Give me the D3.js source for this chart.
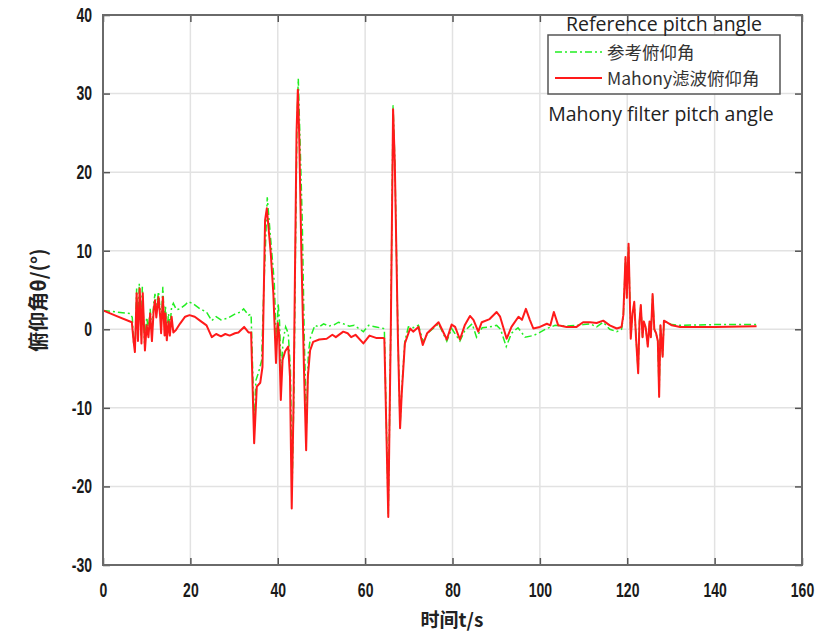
<!DOCTYPE html>
<html><head><meta charset="utf-8">
<script src="https://cdn.jsdelivr.net/npm/d3@7"></script>
<style>
html,body{margin:0;padding:0;background:#fff;}
svg{display:block;}
.tick text{font-family:"Liberation Sans",Arial,sans-serif;font-weight:bold;font-size:20px;fill:#1a1a1a;}
</style></head>
<body>
<svg id="chart" width="840" height="634"></svg>
<script>
// ---- data ----
const xTicks = [0,20,40,60,80,100,120,140,160];
const yTicks = [-30,-20,-10,0,10,20,30,40];
const seriesNames = ["参考俯仰角","Mahony滤波俯仰角"];

const refT = [0,3,6.2,6.7,7.0,7.4,7.7,8.0,8.3,8.7,9.0,9.5,10.0,10.4,10.8,11.2,11.6,11.9,12.2,12.7,13.1,13.3,13.7,14.1,14.3,14.6,15.0,15.3,15.7,16.1,16.8,17.6,18.8,19.5,20.5,22.2,23.7,24.9,25.9,27.0,28.5,30.4,31.5,32.2,33.3,33.9,34.6,35.0,35.6,36.3,36.8,37.6,38.0,38.6,39.2,39.7,40.1,40.4,40.8,41.2,41.8,42.4,42.9,43.3,43.7,44.1,44.4,44.7,45.0,45.6,46.1,46.6,47.0,47.5,48.5,49.5,50.5,51.7,53.0,53.9,55,56.4,57.5,59.6,60.8,62.5,64.2,64.4,65.3,65.9,66.4,66.8,67.5,68.0,68.4,69.1,69.9,71.0,72.2,73.3,74.3,76.8,78.7,79.8,81.7,82.8,84.5,85.5,86.8,88.5,90.1,91.0,92.3,93.5,95.0,96.6,98.5,100.0,101.6,103.5,106,110,111.5,113,114.5,116,117.6,118.7,119.1,119.6,119.9,120.3,120.8,121.2,121.6,122.0,122.5,122.8,123.1,123.5,123.8,124.2,124.7,125.1,125.4,125.8,126.2,126.6,127.0,127.3,127.6,128.1,128.4,129.0,130.2,132,140,149.6];
const refV = [2.4,2.2,2.0,1.5,-1.6,-1.5,5.2,-0.5,5.8,-0.8,5.4,-1.8,1.5,0,2.6,-0.5,3.2,4.5,2.5,4.8,2.5,0.5,5.4,0.2,3.0,-0.4,2.0,0.3,2.8,3.3,2.5,2.6,3.1,3.5,3.3,2.6,2.2,1.1,1.6,1.2,1.4,2.0,2.2,2.6,1.8,1.9,-12,-6.5,-5.5,-4,5,16.8,14,10,6,-2,3.3,1,-6,-1.5,0.3,-0.5,-5,-20,-8,12,26,31.9,26,14,-2,-12,-3,-1.0,0.5,0.3,0.7,0.4,0.6,0.9,0.7,0.4,0.5,-0.3,0.5,0.3,0.1,0.0,-23.5,1.5,28.5,21.5,-0.5,-12.3,-7.5,-1.5,0.3,0.2,0.5,-1.6,-0.5,0.7,-1.5,0.1,-1.5,-0.2,0.7,-1.0,0.2,0.3,0.5,0,-2.2,-0.5,0.2,-1.0,-0.8,-0.4,0.1,0.5,0.4,0.6,0.7,0.3,0.9,0.0,-0.3,0.0,1.5,9.0,4,10.7,-1.0,2,3.3,-0.8,-5.4,1,3.0,-1,0.8,0.3,-2.0,0.8,-1,4.3,0,-0.5,-1.5,-8.4,0.5,-3.3,1.0,0.9,0.6,0.5,0.6,0.6];

const mahT = [0,3,6.6,7.0,7.3,7.7,8.0,8.4,8.8,9.1,9.6,10.0,10.4,10.8,11.2,11.6,11.9,12.2,12.7,13.1,13.3,13.7,14.1,14.3,14.6,15.0,15.3,15.7,16.1,16.7,17.6,18.8,19.8,21.0,22.2,23.7,24.9,25.9,27.0,28.0,29.0,30.2,31.0,32.3,33.3,33.9,34.6,35.2,36.0,36.5,37.1,37.5,37.8,38.4,39.0,39.6,40.0,40.3,40.7,41.1,41.7,42.4,42.8,43.2,43.6,44.0,44.3,44.6,44.9,45.4,46.0,46.5,46.9,47.4,48.1,49.5,51.2,52.5,53.3,55.0,56.0,56.8,57.8,59.6,61.0,62.5,64.2,64.4,65.3,65.9,66.4,66.8,67.5,68.0,68.4,69.1,70.3,71.0,72.2,73.2,74.2,76.8,78.7,79.8,80.6,81.7,82.8,84.0,84.8,85.9,86.7,88.5,90.1,90.9,92.4,93.5,95.1,95.9,96.8,97.7,98.5,100.0,101.6,102.4,103.2,104.2,106.1,108.4,109.9,111.5,113,114.5,116,117.6,118.7,119.1,119.6,119.9,120.3,120.8,121.2,121.6,122.0,122.5,122.8,123.1,123.5,123.8,124.2,124.7,125.1,125.4,125.8,126.2,126.6,127.0,127.3,127.6,128.1,128.4,129.0,130.2,132.1,140,149.6];
const mahV = [2.4,1.7,0.9,-1.5,-2.9,4.6,-1.5,5.2,-1.8,4.6,-2.7,0.5,-1.0,2.0,-1.5,2.5,3.7,1.5,4.1,1.5,-0.5,4.1,-0.8,2.0,-1.4,1.0,-0.8,1.6,-0.4,-0.1,0.7,1.6,1.8,1.6,1.1,0.5,-1.0,-0.6,-0.9,-0.6,-0.8,-0.5,-0.4,0.3,-0.4,-0.4,-14.5,-7.3,-6.8,-4.8,13.9,15.4,13.5,9.7,4.5,-4.3,0.8,-0.5,-9.0,-3.9,-2.8,-2.2,-6,-22.8,-10,10,25,30.5,25,10,-5,-15.4,-6,-2.7,-1.6,-1.3,-1.2,-0.7,-1.0,-0.3,-0.5,-1.0,-0.7,-1.8,-0.8,-1.1,-1.1,-1.2,-23.9,1,28.0,21,-1,-12.6,-8,-1.8,0.1,-0.3,0.3,-2.0,-0.5,0.9,-1.3,0.6,0.3,-1.3,0.5,1.7,1.2,-0.3,0.9,1.3,2.2,1.6,-1.2,0.3,1.6,1.2,2.6,1.2,0.1,0.3,0.7,0.5,2.2,0.5,0.3,0.3,0.9,0.9,0.8,1.1,0.5,0.1,0.3,1.8,9.2,4,10.9,-1.2,2,3.5,-1,-5.6,1,3.1,-1,1,0.3,-2.2,1,-1,4.5,0,-0.5,-1.5,-8.6,0.5,-3.5,1.1,0.9,0.5,0.3,0.3,0.4];

// ---- chart ----
const svg = d3.select("#chart");
const L = 103, R = 802, T = 15, B = 565;
const x = d3.scaleLinear().domain([0,160]).range([L,R]);
const y = d3.scaleLinear().domain([-30,40]).range([B,T]);

// grid
const g = svg.append("g");
g.selectAll("line.gx").data(xTicks.slice(1,-1)).join("line")
  .attr("x1",d=>x(d)).attr("x2",d=>x(d)).attr("y1",T).attr("y2",B)
  .attr("stroke","#e2e2e2").attr("stroke-width",1.5);
g.selectAll("line.gy").data(yTicks.slice(1,-1)).join("line")
  .attr("y1",d=>y(d)).attr("y2",d=>y(d)).attr("x1",L).attr("x2",R)
  .attr("stroke","#e2e2e2").attr("stroke-width",1.5);

// axes
const fmt = d => String(d);
const xAxis = svg.append("g").attr("transform",`translate(0,${B})`)
  .call(d3.axisBottom(x).tickValues(xTicks).tickSize(-7).tickPadding(18).tickFormat(fmt));
const yAxis = svg.append("g").attr("transform",`translate(${L},0)`)
  .call(d3.axisLeft(y).tickValues(yTicks).tickSize(-7).tickPadding(11).tickFormat(fmt));
const xTop = svg.append("g").attr("transform",`translate(0,${T})`)
  .call(d3.axisTop(x).tickValues(xTicks).tickSize(-7).tickFormat(""));
const yRight = svg.append("g").attr("transform",`translate(${R},0)`)
  .call(d3.axisRight(y).tickValues(yTicks).tickSize(-7).tickFormat(""));
[xAxis,yAxis,xTop,yRight].forEach(a=>{
  a.select(".domain").remove();
  a.selectAll(".tick line").attr("stroke","#555").attr("stroke-width",1.5);
});
// condense tick labels (narrow bold look)
[xAxis,yAxis].forEach(a=>{
  a.selectAll(".tick text").each(function(){
    const w = this.getComputedTextLength();
    if (w>0) d3.select(this).attr("textLength", w*0.7).attr("lengthAdjust","spacingAndGlyphs");
  });
});

// lines
const refData = refT.map((t,i)=>[t,refV[i]]);
const mahData = mahT.map((t,i)=>[t,mahV[i]]);
const line = d3.line().x(d=>x(d[0])).y(d=>y(d[1]));
svg.append("path").datum(refData).attr("d",line).attr("fill","none")
  .attr("stroke","#22ee22").attr("stroke-width",1.5).attr("stroke-dasharray","7,3,2,3");
svg.append("path").datum(mahData).attr("d",line).attr("fill","none")
  .attr("stroke","#ff1a1a").attr("stroke-width",2).attr("stroke-linejoin","round");

// frame
svg.append("rect").attr("x",L).attr("y",T).attr("width",R-L).attr("height",B-T)
  .attr("fill","none").attr("stroke","#6a6a6a").attr("stroke-width",2);

// axis labels
svg.append("text").attr("x",452).attr("y",627).attr("text-anchor","middle")
  .attr("font-family","'Noto Sans CJK SC',sans-serif").attr("font-weight","bold").attr("font-size",19).attr("fill","#222")
  .text("时间t/s");
svg.append("text").attr("transform","translate(46,300) rotate(-90)").attr("text-anchor","middle")
  .attr("font-family","'Noto Sans CJK SC',sans-serif").attr("font-weight","bold").attr("font-size",20).attr("fill","#222")
  .text("俯仰角θ/(°)");

// legend
const lg = svg.append("g");
lg.append("rect").attr("x",548).attr("y",35).attr("width",232).attr("height",59)
  .attr("fill","#fff").attr("stroke","#555").attr("stroke-width",1.5);
lg.append("line").attr("x1",555).attr("x2",602).attr("y1",52).attr("y2",52)
  .attr("stroke","#22ee22").attr("stroke-width",1.5).attr("stroke-dasharray","7,3,2,3");
lg.append("line").attr("x1",555).attr("x2",602).attr("y1",78).attr("y2",78)
  .attr("stroke","#ff1a1a").attr("stroke-width",2);
lg.append("text").attr("x",607).attr("y",59).attr("font-family","'Noto Sans CJK SC',sans-serif")
  .attr("font-size",17.5).attr("fill","#333").text(seriesNames[0]);
lg.append("text").attr("x",607).attr("y",85).attr("font-family","'Noto Sans CJK SC',sans-serif")
  .attr("font-size",17.5).attr("fill","#333").text(seriesNames[1]);

// annotations
svg.append("text").attr("x",664).attr("y",31).attr("text-anchor","middle")
  .attr("font-family","'Open Sans',sans-serif").attr("font-size",19.5).attr("fill","#222")
  .text("Reference pitch angle");
svg.append("text").attr("x",661).attr("y",121).attr("text-anchor","middle")
  .attr("font-family","'Open Sans',sans-serif").attr("font-size",19.5).attr("fill","#222")
  .text("Mahony filter pitch angle");
</script>
</body></html>
